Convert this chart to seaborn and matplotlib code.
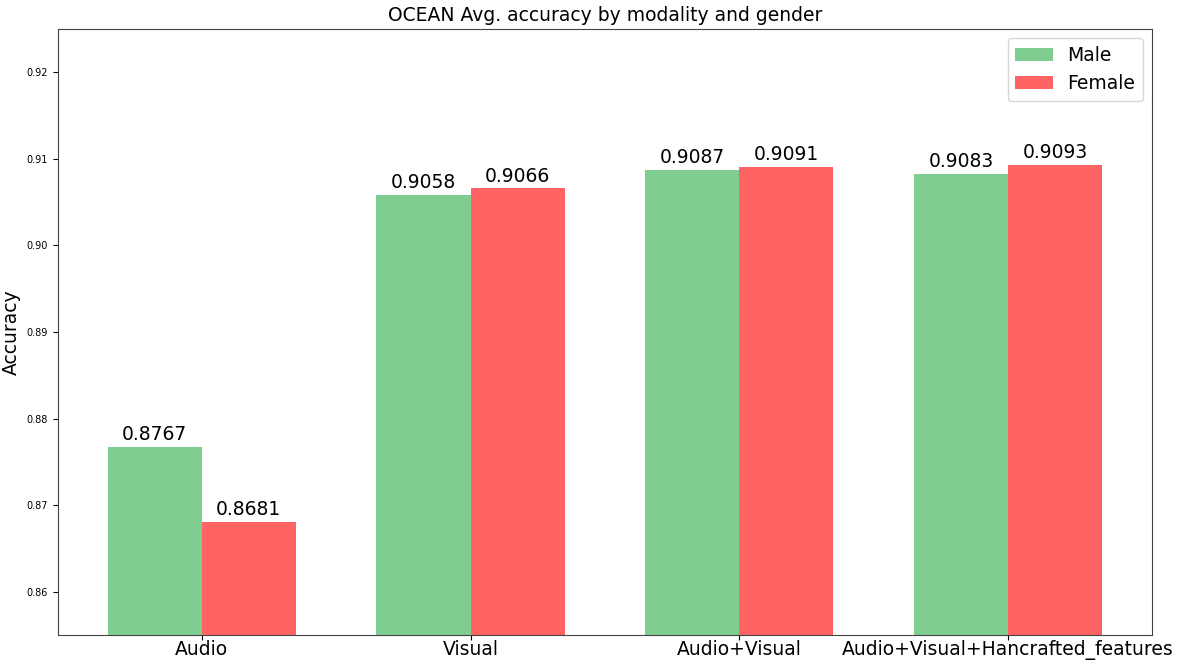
import numpy as np
import pandas as pd
import seaborn as sns
import matplotlib
matplotlib.use("Agg")
import matplotlib.pyplot as plt

# data
modalities = ["Audio", "Visual", "Audio+Visual", "Audio+Visual+Hancrafted_features"]
male_acc = [0.8767, 0.9058, 0.9087, 0.9083]
female_acc = [0.8681, 0.9066, 0.9091, 0.9093]
genders = ["Male", "Female"]

df = pd.DataFrame({
    "modality": modalities * 2,
    "gender": ["Male"] * len(modalities) + ["Female"] * len(modalities),
    "acc": male_acc + female_acc,
})

sns.set_style("ticks")
plt.rcParams["font.family"] = ["DejaVu Sans"]
plt.rcParams["text.color"] = "black"
plt.rcParams["axes.labelcolor"] = "black"
plt.rcParams["xtick.color"] = "black"
plt.rcParams["ytick.color"] = "black"

fig, ax = plt.subplots(figsize=(11.77, 6.6), dpi=100)
fig.subplots_adjust(left=0.049, right=0.979, top=0.956, bottom=0.038)

sns.barplot(data=df, x="modality", y="acc", hue="gender", hue_order=genders,
            palette={"Male": "#7fcd91", "Female": "#ff6363"},
            saturation=1, linewidth=0, width=0.7, ax=ax, errorbar=None)

# value labels on top of each bar
for cont in ax.containers:
    ax.bar_label(cont, fmt="%.4f", fontsize=13.5, padding=2, color="black")

ax.set_ylim(0.855, 0.925)
ax.set_xlim(-0.536, 3.536)
ax.set_yticks([0.86, 0.87, 0.88, 0.89, 0.90, 0.91, 0.92])
ax.set_yticklabels(["0.86", "0.87", "0.88", "0.89", "0.90", "0.91", "0.92"])
ax.tick_params(axis="y", labelsize=7)
ax.tick_params(axis="x", labelsize=13.5, pad=0.5)
ax.set_xlabel("")
ax.set_ylabel("Accuracy", fontsize=13.5)
ax.set_title("OCEAN Avg. accuracy by modality and gender", fontsize=13.5)

for sp in ax.spines.values():
    sp.set_visible(True)
    sp.set_color("#444444")

ax.legend(loc="upper right", fontsize=13.5, title=None)

plt.savefig("out.png", dpi=100)
